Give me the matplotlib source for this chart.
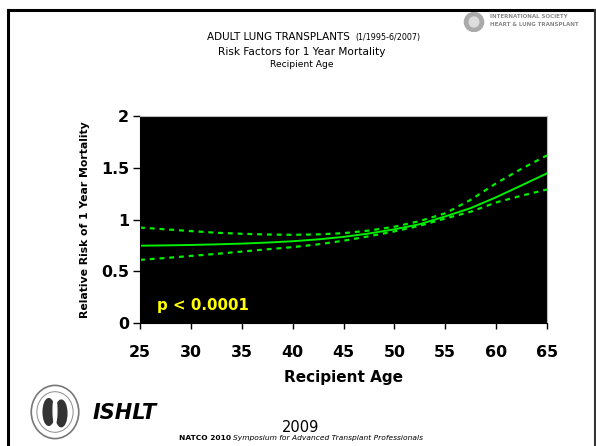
import matplotlib
matplotlib.use("Agg")
import matplotlib.pyplot as plt
from matplotlib.lines import Line2D
from matplotlib.patches import Ellipse

# the slide is stretched sideways, DejaVu's wider glyphs match it better than Arial
plt.rcParams['font.family'] = ['DejaVu Sans']

# values (age vs relative risk, with 95% band)
ages = [25, 27.5, 30, 32.5, 35, 37.5, 40, 42.5, 45, 47.5, 50, 52.5, 55, 57.5, 60, 62.5, 65]
risk = [0.747, 0.750, 0.754, 0.760, 0.767, 0.777, 0.790, 0.808, 0.832, 0.865,
        0.905, 0.955, 1.03, 1.11, 1.215, 1.33, 1.446]
upper = [0.922, 0.905, 0.888, 0.872, 0.862, 0.855, 0.852, 0.856, 0.868, 0.893,
         0.93, 0.985, 1.06, 1.19, 1.35, 1.49, 1.62]
lower = [0.610, 0.628, 0.648, 0.668, 0.690, 0.712, 0.733, 0.760, 0.795, 0.838,
         0.885, 0.94, 1.01, 1.075, 1.165, 1.23, 1.29]
x_ticks = [25, 30, 35, 40, 45, 50, 55, 60, 65]
y_ticks = [0, 0.5, 1, 1.5, 2]
y_tick_labels = ['0', '0.5', '1', '1.5', '2']

W, H = 596, 446
fig = plt.figure(figsize=(W / 100, H / 100), dpi=100)
fig.patch.set_facecolor('white')


def fx(px):
    return px / W


def fy(py):
    return 1 - py / H


# slide frame
fig.add_artist(Line2D([fx(8), fx(8)], [fy(10), 0], color='black', lw=2.2, transform=fig.transFigure))
fig.add_artist(Line2D([fx(8), 1], [fy(10), fy(10)], color='black', lw=2.2, transform=fig.transFigure))
fig.add_artist(Line2D([fx(595), fx(595)], [fy(10), 0], color='#333333', lw=1.5, transform=fig.transFigure))

# titles
fig.text(fx(350), fy(37), 'ADULT LUNG TRANSPLANTS', ha='right', va='center', fontsize=7.5)
fig.text(fx(355), fy(37.5), '(1/1995-6/2007)', ha='left', va='center', fontsize=5.8)
fig.text(fx(302), fy(52), 'Risk Factors for 1 Year Mortality', ha='center', va='center', fontsize=7.6)
fig.text(fx(302), fy(64.5), 'Recipient Age', ha='center', va='center', fontsize=6.6)

# main chart
ax = fig.add_axes([fx(140), fy(323), fx(547) - fx(140), fy(116) - fy(323)])
ax.set_facecolor('black')
ax.plot(ages, risk, color='#00ee00', lw=1.4)
ax.plot(ages, upper, color='#00ee00', lw=1.6, dashes=(2.2, 2.2))
ax.plot(ages, lower, color='#00ee00', lw=1.6, dashes=(2.2, 2.2))
ax.set_xlim(25, 65)
ax.set_ylim(0, 2)
ax.set_xticks(x_ticks)
ax.set_yticks(y_ticks)
ax.set_yticklabels(y_tick_labels)
ax.tick_params(axis='x', direction='out', length=4, width=1, pad=12, labelsize=11.4)
ax.tick_params(axis='y', direction='out', length=5, width=1, pad=3, labelsize=11.4)
for lab in ax.get_xticklabels() + ax.get_yticklabels():
    lab.set_fontweight('bold')
for side in ['top', 'right']:
    ax.spines[side].set_color('#bbbbbb')
ax.set_xlabel('Recipient Age', fontsize=11, fontweight='bold', labelpad=7)
ax.set_ylabel('Relative Risk of 1 Year Mortality', fontsize=7.8, fontweight='bold', labelpad=8)
ax.text(26.65, 0.17, 'p < 0.0001', color='#ffff00', fontsize=10.8, fontweight='bold', va='center', ha='left')

# ISHLT logo, bottom left
logo = fig.add_axes([fx(30), fy(440), fx(50), fy(384) - fy(440)])
logo.set_xlim(-1, 1)
logo.set_ylim(-1, 1)
logo.axis('off')
logo.add_patch(Ellipse((0, 0), 1.9, 1.9, fill=False, ec='#777777', lw=1.2))
logo.add_patch(Ellipse((0, 0), 1.45, 1.45, fill=False, ec='#999999', lw=0.8))
logo.add_patch(Ellipse((-0.25, 0.0), 0.45, 0.95, color='#333333'))
logo.add_patch(Ellipse((0.25, -0.05), 0.45, 0.95, color='#333333'))
logo.add_patch(Ellipse((0.0, 0.05), 0.15, 0.9, color='white'))

fig.text(fx(93), fy(413), 'ISHLT', fontsize=15, fontweight='bold', style='italic', ha='left', va='center')
fig.text(fx(301), fy(427), '2009', fontsize=10.5, ha='center', va='center')
fig.text(fx(231), fy(438), 'NATCO 2010', fontsize=5.4, fontweight='bold', ha='right', va='center')
fig.text(fx(233), fy(438), 'Symposium for Advanced Transplant Professionals', fontsize=5.4,
         style='italic', ha='left', va='center')

# registry logo, top right (faint)
rlogo = fig.add_axes([fx(462), fy(32), fx(24), fy(12) - fy(32)])
rlogo.set_xlim(-1, 1)
rlogo.set_ylim(-1, 1)
rlogo.axis('off')
rlogo.add_patch(Ellipse((0, 0), 1.6, 1.9, color='#aaaaaa'))
rlogo.add_patch(Ellipse((0, 0), 0.8, 1.0, color='#dddddd'))
fig.text(fx(490), fy(16), 'INTERNATIONAL SOCIETY', fontsize=4, fontweight='bold', color='#888888', va='center')
fig.text(fx(490), fy(24), 'HEART & LUNG TRANSPLANT', fontsize=4, fontweight='bold', color='#888888', va='center')

fig.savefig('out.png', dpi=100, facecolor='white')
